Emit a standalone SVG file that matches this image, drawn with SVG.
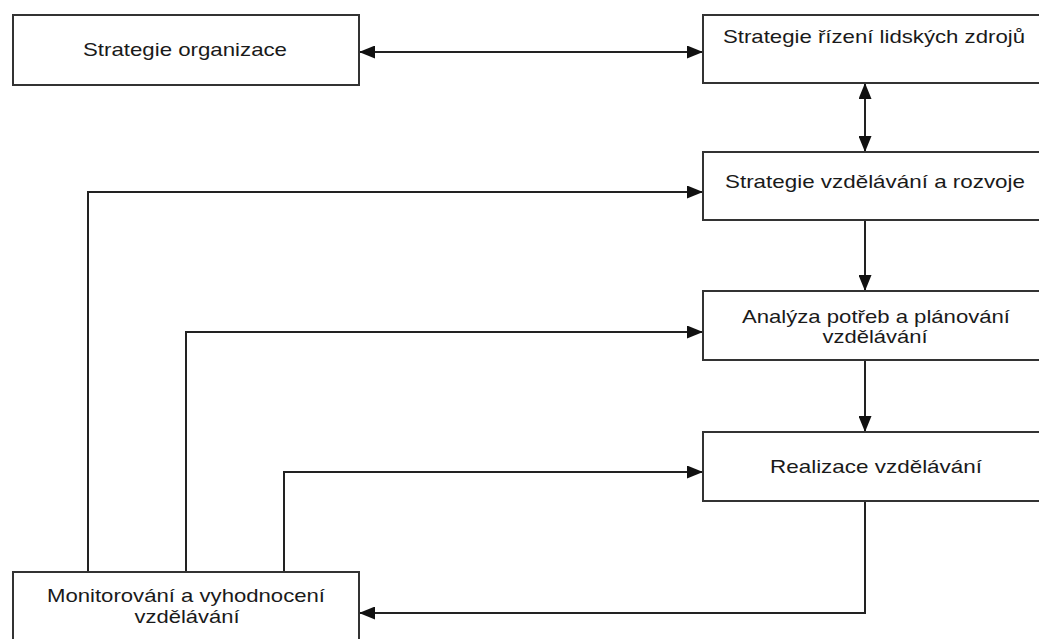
<svg xmlns="http://www.w3.org/2000/svg" width="1039" height="639" viewBox="0 0 1039 639">
<defs>
<marker id="ah" viewBox="0 0 16 13" refX="16" refY="6.5" markerWidth="16" markerHeight="13" markerUnits="userSpaceOnUse" orient="auto-start-reverse">
<path d="M0,0 L16,6.5 L0,13 Z" fill="#111"/>
</marker>
<style>
.box{fill:#fff;stroke:#333;stroke-width:2}
.t{font-family:"Liberation Sans",Arial,sans-serif;font-size:18.5px;fill:#1a1a1a;text-anchor:middle}
.c{fill:none;stroke:#222;stroke-width:2}
</style>
</defs>
<rect width="1039" height="639" fill="#fff"/>
<g id="connectors">
<line class="c" x1="359" y1="52" x2="703" y2="52" marker-start="url(#ah)" marker-end="url(#ah)"/>
<line class="c" x1="865" y1="83" x2="865" y2="152" marker-start="url(#ah)" marker-end="url(#ah)"/>
<line class="c" x1="865" y1="220" x2="865" y2="291" marker-end="url(#ah)"/>
<line class="c" x1="865" y1="360" x2="865" y2="432" marker-end="url(#ah)"/>
<path class="c" d="M865,501 V613 H359" marker-end="url(#ah)"/>
<path class="c" d="M88,572 V192 H703" marker-end="url(#ah)"/>
<path class="c" d="M186,572 V332 H703" marker-end="url(#ah)"/>
<path class="c" d="M284,572 V472 H703" marker-end="url(#ah)"/>
</g>
<g id="n1">
<rect class="box" x="13" y="15" width="346" height="70"/>
<text class="t" x="185" y="56" textLength="204" lengthAdjust="spacingAndGlyphs">Strategie organizace</text>
</g>
<g id="n2">
<rect class="box" x="703" y="15" width="345" height="68"/>
<text class="t" x="874" y="43" textLength="302" lengthAdjust="spacingAndGlyphs">Strategie řízení lidských zdrojů</text>
</g>
<g id="n3">
<rect class="box" x="703" y="152" width="345" height="68"/>
<text class="t" x="875" y="188" textLength="300" lengthAdjust="spacingAndGlyphs">Strategie vzdělávání a rozvoje</text>
</g>
<g id="n4">
<rect class="box" x="703" y="291" width="345" height="69"/>
<text class="t" x="876" y="323" textLength="268" lengthAdjust="spacingAndGlyphs">Analýza potřeb a plánování</text>
<text class="t" x="875" y="343" textLength="105" lengthAdjust="spacingAndGlyphs">vzdělávání</text>
</g>
<g id="n5">
<rect class="box" x="703" y="432" width="345" height="69"/>
<text class="t" x="876" y="473" textLength="212" lengthAdjust="spacingAndGlyphs">Realizace vzdělávání</text>
</g>
<g id="n6">
<rect class="box" x="13" y="572" width="346" height="80"/>
<text class="t" x="186" y="602" textLength="278" lengthAdjust="spacingAndGlyphs">Monitorování a vyhodnocení</text>
<text class="t" x="187" y="623" textLength="105" lengthAdjust="spacingAndGlyphs">vzdělávání</text>
</g>
</svg>
